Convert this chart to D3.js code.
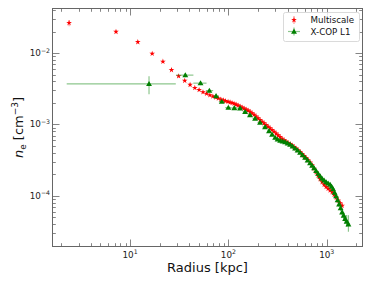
<!DOCTYPE html>
<html>
<head>
<meta charset="utf-8">
<script src="https://d3js.org/d3.v7.min.js"></script>
<style>
  body { margin: 0; background: white; }
  svg { display: block; font-family: 'DejaVu Sans', sans-serif; }
</style>
</head>
<body>
<div id="chart"></div>
<script>
// Multiscale profile (red stars)
const msRadius = [2.4, 7.2, 12.0, 16.8, 21.6, 26.4, 31.2, 36.0, 40.8, 45.6, 50.4, 55.2, 60.0, 64.8,
  69.6, 74.4, 79.2, 84.0, 88.8, 93.6,
  99.3, 104.06, 109.0, 114.28, 119.7, 125.54, 131.5, 137.87, 144.4, 151.39, 158.6, 166.29,
  174.2, 182.65, 191.3, 200.6, 210.1, 220.3, 230.8, 241.9, 253.5, 265.6, 278.4, 291.7, 305.8,
  320.4, 335.7, 351.8, 368.8, 386.4, 404.9, 424.4, 444.6, 466.1, 488.4, 511.8, 536.3, 562.1,
  589.0, 617.3, 646.9, 677.9, 710.5, 744.5, 780.3, 817.6, 857.0, 898.0, 941.0, 986.0, 1033,
  1082.9, 1135, 1189.2, 1246, 1306.1, 1369, 1435];
const msNe = [0.0264, 0.0199, 0.0143, 0.0098, 0.0076, 0.0058, 0.00475, 0.0041, 0.0036, 0.00326,
  0.00305, 0.00283, 0.00271, 0.00257, 0.00247, 0.00240, 0.00232, 0.00224, 0.00219, 0.00213,
  0.002084, 0.002043, 0.002004, 0.001953, 0.001903, 0.001848, 0.001790, 0.001732, 0.001673,
  0.001619, 0.001568, 0.001508, 0.001441, 0.001369, 0.001295, 0.001226, 0.001157, 0.001095,
  0.001039, 0.000984, 0.000934, 0.000885, 0.000840, 0.000792, 0.000747, 0.000705, 0.000667,
  0.000632, 0.000600, 0.000575, 0.000553, 0.000532, 0.000510, 0.000486, 0.000462, 0.000436,
  0.000411, 0.000387, 0.000363, 0.000340, 0.000317, 0.000293, 0.000270, 0.000241, 0.000215,
  0.000192, 0.000172, 0.0001557, 0.0001437, 0.0001338, 0.0001262, 0.0001191, 0.0001127,
  0.0001039, 0.0000950, 0.0000865, 0.0000790, 0.0000729];
// relative error on ne
const msNeErr = [0.10, 0.03, 0.03, 0.03, 0.03, 0.03, 0.03, 0.03, 0.03, 0.03, 0.03, 0.03, 0.03, 0.03,
  0.03, 0.03, 0.03, 0.03, 0.03, 0.03,
  0.03, 0.03, 0.03, 0.03, 0.03, 0.03, 0.03, 0.03, 0.03, 0.03, 0.03, 0.03, 0.03, 0.03, 0.03,
  0.03, 0.03, 0.03, 0.03, 0.03, 0.03, 0.03, 0.03, 0.03, 0.03, 0.03, 0.03, 0.03, 0.03, 0.03,
  0.03, 0.03, 0.03, 0.03, 0.03, 0.03, 0.04, 0.04, 0.04, 0.04, 0.04, 0.04, 0.04, 0.04, 0.05,
  0.05, 0.05, 0.05, 0.05, 0.05, 0.06, 0.06, 0.07, 0.07, 0.08, 0.08, 0.09, 0.10];

// X-COP L1 (green triangles)
const xcRadius = [15.6, 36.5, 52.1, 64.1, 75, 85.7, 100, 115, 131.5, 148, 166, 187, 210, 236, 259,
  278.4, 299, 316.6, 336, 355.9, 377.5, 400.2, 424.4, 449.9, 477, 505.8, 536, 568.7, 603, 639.3,
  677, 710.5, 744.5, 780.3, 817.6, 856.9, 898, 941, 986, 1033.3, 1083, 1121.4, 1162, 1203.2,
  1246, 1291, 1337, 1385.1, 1435, 1486.1, 1539, 1594.4, 1663];
const xcNe = [0.00371, 0.00491, 0.00379, 0.00298, 0.00251, 0.00209, 0.00172, 0.00170, 0.00169,
  0.00151, 0.001359, 0.001214, 0.001067, 0.000922, 0.000810, 0.0007236, 0.000653, 0.0006196,
  0.000596, 0.0005829, 0.000568, 0.0005462, 0.000524, 0.0004941, 0.000463, 0.0004342,
  0.000404, 0.0003729, 0.000344, 0.0003152, 0.000288, 0.0002656, 0.000245, 0.0002237,
  0.000205, 0.0001891, 0.0001744, 0.0001645, 0.0001558, 0.0001493, 0.0001437, 0.0001347,
  0.0001242, 0.0001109, 0.0000990, 0.0000870, 0.0000764, 0.0000672, 0.0000590, 0.0000531,
  0.0000478, 0.0000437, 0.0000400];
// radius bin edges
const xcRLo = [2.27, 29.4, 44, 59, 70, 80, 93, 107, 123, 140, 157, 176, 198, 222, 248,
  268, 288, 305, 324, 343, 364, 386, 409, 434, 460, 488, 517, 549, 582, 617,
  653, 686, 719, 753, 789, 827, 867, 908, 952, 997, 1045, 1082, 1121, 1161,
  1202, 1246, 1290, 1337, 1385, 1434, 1485, 1539, 1600];
const xcRHi = [29.2, 44.1, 60, 70, 80, 92, 107, 123, 140, 157, 176, 198, 222, 250, 270,
  290, 310, 328, 348, 369, 391, 415, 440, 466, 494, 524, 555, 589, 624, 662,
  701, 736, 771, 808, 847, 887, 930, 974, 1021, 1070, 1121, 1161, 1203, 1246,
  1290, 1336, 1384, 1434, 1485, 1538, 1593, 1650, 1730];
// ne error range
const xcNeLo = [0.00266, 0.00460, 0.00355, 0.00282, 0.00238, 0.00199, 0.00163, 0.00161, 0.00160,
  0.00143, 0.001290, 0.001153, 0.001013, 0.000876, 0.000770, 0.000687, 0.000620, 0.000589,
  0.000566, 0.000554, 0.000540, 0.000519, 0.000498, 0.000469, 0.000440, 0.000412,
  0.000384, 0.000354, 0.000327, 0.000299, 0.000273, 0.000252, 0.000232, 0.000212,
  0.000194, 0.000179, 0.000165, 0.000156, 0.000147, 0.000141, 0.000135, 0.000126,
  0.000116, 0.000103, 0.0000920, 0.0000805, 0.0000700, 0.0000612, 0.0000530, 0.0000472,
  0.0000420, 0.0000370, 0.0000314];
const xcNeHi = [0.00475, 0.00522, 0.00403, 0.00314, 0.00264, 0.00219, 0.00181, 0.00179, 0.00178,
  0.00159, 0.001428, 0.001275, 0.001121, 0.000968, 0.000850, 0.000760, 0.000686, 0.000651,
  0.000626, 0.000612, 0.000596, 0.000574, 0.000550, 0.000519, 0.000486, 0.000456,
  0.000424, 0.000392, 0.000361, 0.000331, 0.000303, 0.000279, 0.000258, 0.000235,
  0.000216, 0.000199, 0.000184, 0.000173, 0.000165, 0.000158, 0.000153, 0.000144,
  0.000133, 0.000119, 0.000106, 0.0000935, 0.0000830, 0.0000732, 0.0000650, 0.0000590,
  0.0000540, 0.0000537, 0.0000536];

const xTickDecades = [1, 2, 3];
const yTickDecades = [-2, -3, -4];

const W = 374, H = 288;
const pLeft = 52, pRight = 363, pTop = 8, pBottom = 247;
const axisColor = "#666";

const x = d3.scaleLog().domain([1.609, 2339]).range([pLeft, pRight]);
const y = d3.scaleLog().domain([1.92e-5, 0.0428]).range([pBottom, pTop]);

const svg = d3.select("#chart").append("svg")
  .attr("width", W).attr("height", H);
svg.append("rect").attr("width", W).attr("height", H).attr("fill", "white");

const plot = svg.append("g");

// minor + major ticks (inward, all four sides)
function logTicks(scale) {
  const [a, b] = scale.domain();
  const out = [];
  for (let e = Math.floor(Math.log10(a)); e <= Math.ceil(Math.log10(b)); e++) {
    for (let m = 1; m <= 9; m++) {
      const v = m * Math.pow(10, e);
      if (v >= a && v <= b) out.push({ v: v, major: m === 1 });
    }
  }
  return out;
}

const ticks = svg.append("g").attr("stroke", axisColor).attr("stroke-width", 0.8);
logTicks(x).forEach(t => {
  const px = Math.round(x(t.v)) + 0.5, len = t.major ? 7.5 : 3.8;
  ticks.append("line").attr("x1", px).attr("x2", px).attr("y1", pBottom).attr("y2", pBottom - len);
  ticks.append("line").attr("x1", px).attr("x2", px).attr("y1", pTop).attr("y2", pTop + len);
});
logTicks(y).forEach(t => {
  const py = Math.round(y(t.v)) + 0.5, len = t.major ? 7.5 : 3.8;
  ticks.append("line").attr("y1", py).attr("y2", py).attr("x1", pLeft).attr("x2", pLeft + len);
  ticks.append("line").attr("y1", py).attr("y2", py).attr("x1", pRight).attr("x2", pRight - len);
});

svg.append("rect")
  .attr("x", pLeft + 0.5).attr("y", pTop + 0.5)
  .attr("width", pRight - pLeft - 1).attr("height", pBottom - pTop - 1)
  .attr("fill", "none").attr("stroke", axisColor).attr("stroke-width", 1);

// tick labels
xTickDecades.forEach(e => {
  const t = svg.append("text").attr("x", x(Math.pow(10, e))).attr("y", pBottom + 10.5)
    .attr("text-anchor", "middle").attr("font-size", 8.8).attr("fill", "#222");
  t.append("tspan").text("10");
  t.append("tspan").attr("font-size", 6.2).attr("dy", -3.5).text(e);
});
yTickDecades.forEach(e => {
  const t = svg.append("text").attr("x", pLeft - 2).attr("y", y(Math.pow(10, e)) + 3)
    .attr("text-anchor", "end").attr("font-size", 8.8).attr("fill", "#222");
  t.append("tspan").text("10");
  t.append("tspan").attr("font-size", 6.2).attr("dy", -3.5).text("\u2212" + (-e));
});

// axis labels
svg.append("text").attr("x", (pLeft + pRight) / 2).attr("y", 271.5)
  .attr("text-anchor", "middle").attr("font-size", 13).attr("fill", "#111")
  .text("Radius [kpc]");

const yl = svg.append("text")
  .attr("transform", `translate(23,${(pTop + pBottom) / 2}) rotate(-90)`)
  .attr("text-anchor", "middle").attr("font-size", 13).attr("fill", "#111");
yl.append("tspan").attr("font-style", "italic").text("n");
yl.append("tspan").attr("font-size", 9).attr("dy", 3).text("e");
yl.append("tspan").attr("dy", -3).text(" [cm");
yl.append("tspan").attr("font-size", 9).attr("dy", -5).text("\u22123");
yl.append("tspan").attr("dy", 5).text("]");

// Multiscale
const ms = d3.range(msRadius.length).map(i => ({ r: msRadius[i], ne: msNe[i], e: msNeErr[i] || 0.03 }));
const star = d3.symbol().type(d3.symbolStar).size(10);

plot.append("g").attr("stroke", "red").attr("stroke-opacity", 0.4).attr("stroke-width", 1.2)
  .selectAll("line").data(ms).enter().append("line")
  .attr("x1", d => x(d.r)).attr("x2", d => x(d.r))
  .attr("y1", d => y(d.ne * (1 + d.e))).attr("y2", d => y(d.ne * (1 - d.e)));

plot.append("g").selectAll("path").data(ms).enter().append("path")
  .attr("d", star).attr("fill", "red")
  .attr("transform", d => `translate(${x(d.r)},${y(d.ne)})`);

// X-COP L1
const xc = d3.range(xcRadius.length).map(i => ({
  r: xcRadius[i], ne: xcNe[i], rlo: xcRLo[i], rhi: xcRHi[i], nlo: xcNeLo[i], nhi: xcNeHi[i]
}));
const tri = d3.symbol().type(d3.symbolTriangle).size(15);

const xcErr = plot.append("g").attr("stroke", "green").attr("stroke-opacity", 0.45).attr("stroke-width", 1.2);
xcErr.selectAll(".h").data(xc).enter().append("line")
  .attr("x1", d => x(d.rlo)).attr("x2", d => x(d.rhi))
  .attr("y1", d => y(d.ne)).attr("y2", d => y(d.ne));
xcErr.selectAll(".v").data(xc).enter().append("line")
  .attr("x1", d => x(d.r)).attr("x2", d => x(d.r))
  .attr("y1", d => y(d.nhi)).attr("y2", d => y(d.nlo));

plot.append("g").selectAll("path").data(xc).enter().append("path")
  .attr("d", tri).attr("fill", "green")
  .attr("transform", d => `translate(${x(d.r)},${y(d.ne) + 0.5})`);

// legend
const lg = svg.append("g");
lg.append("rect").attr("x", 283.5).attr("y", 12.5).attr("width", 76).attr("height", 29)
  .attr("rx", 2).attr("fill", "white").attr("fill-opacity", 0.8)
  .attr("stroke", "#d0d0d0").attr("stroke-width", 0.8);
lg.append("line").attr("x1", 294).attr("x2", 294).attr("y1", 16).attr("y2", 24)
  .attr("stroke", "red").attr("stroke-opacity", 0.4).attr("stroke-width", 1.2);
lg.append("path").attr("d", star).attr("fill", "red").attr("transform", "translate(294,20)");
lg.append("text").attr("x", 310.5).attr("y", 23.2).attr("font-size", 8.7).attr("fill", "#111").text("Multiscale");
lg.append("line").attr("x1", 288).attr("x2", 300).attr("y1", 31.5).attr("y2", 31.5)
  .attr("stroke", "green").attr("stroke-opacity", 0.45).attr("stroke-width", 1.2);
lg.append("line").attr("x1", 294).attr("x2", 294).attr("y1", 27.5).attr("y2", 35.5)
  .attr("stroke", "green").attr("stroke-opacity", 0.45).attr("stroke-width", 1.2);
lg.append("path").attr("d", tri).attr("fill", "green").attr("transform", "translate(294,32)");
lg.append("text").attr("x", 310.5).attr("y", 34.8).attr("font-size", 8.7).attr("fill", "#111").text("X-COP L1");
</script>
</body>
</html>
